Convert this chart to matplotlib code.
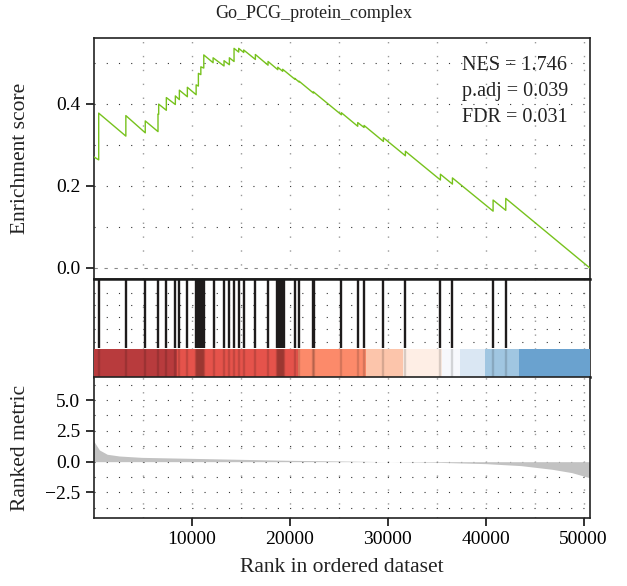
import matplotlib
matplotlib.use("Agg")
import matplotlib.pyplot as plt
import numpy as np

plt.rcParams['font.family'] = ['Liberation Serif', 'DejaVu Serif']

# ---------------- data ----------------
title = "Go_PCG_protein_complex"
n_genes = 50600
stats_text = ["NES = 1.746", "p.adj = 0.039", "FDR = 0.031"]

# running enrichment score vertices (rank, ES)
es_rank = [1, 530, 530, 3300, 3300, 5280, 5280, 6580, 6580, 6650, 6650,
           7430, 7430, 8350, 8350, 8760, 8760, 9575, 9575,
           10470, 10470, 10700, 10700, 10950, 10950, 11250, 11250,
           12200, 12200, 13316, 13316, 13861, 13861, 14337, 14337,
           14813, 14813, 15323, 15323, 16514, 16514, 17806, 17806,
           18800, 18800, 19300, 19300, 20527, 20527, 20969, 20969,
           22432, 22432, 25289, 25289, 26956, 26956, 27602, 27602,
           29575, 29575, 31820, 31820, 35391, 35391, 36616, 36616,
           40765, 40765, 42058, 42058, 50600]
es_value = [0.271, 0.263, 0.377, 0.321, 0.371, 0.329, 0.358, 0.332, 0.375, 0.374, 0.399,
            0.384, 0.415, 0.398, 0.419, 0.410, 0.433, 0.417, 0.440,
            0.422, 0.446, 0.443, 0.474, 0.471, 0.490, 0.487, 0.519,
            0.500, 0.512, 0.492, 0.505, 0.495, 0.512, 0.503, 0.535,
            0.526, 0.535, 0.525, 0.531, 0.508, 0.520, 0.494, 0.503,
            0.483, 0.489, 0.479, 0.484, 0.460, 0.462, 0.453, 0.455,
            0.426, 0.429, 0.373, 0.378, 0.345, 0.354, 0.342, 0.347,
            0.308, 0.317, 0.273, 0.284, 0.214, 0.228, 0.204, 0.219,
            0.138, 0.165, 0.140, 0.169, 0.0]

# ranks of the gene-set members (rug)
hit_ranks = [596, 3316, 5289, 6582, 7432, 8350, 8759, 9575,
             10480, 10580, 10680, 10780, 10880, 10980, 11080, 11180, 11300,
             12330, 13316, 13861, 14337, 14813, 15323, 16514, 17806,
             18720, 18820, 18920, 19020, 19120, 19220, 19320, 19420,
             20527, 20969, 22380, 22480, 25289, 26956, 27602, 29575,
             31820, 35391, 36616, 40765, 42058]

# colour band segments (start rank, end rank, colour)
band_start = [0, 8490, 20900, 27800, 31610, 35530, 37400, 39950, 43420]
band_end = [8490, 20900, 27800, 31610, 35530, 37400, 39950, 43420, 50600]
band_color = ["#B83B3D", "#E5534B", "#FC8A6A", "#FCC5AB", "#FEEEE5",
              "#F7F8FC", "#DAE7F3", "#A0C6E1", "#6AA2CF"]

# ranked metric profile (rank, value)
metric_rank = [1, 600, 1400, 2640, 4900, 10000, 15000, 20000, 25000, 30000,
               35000, 40000, 43600, 46800, 48800, 50600]
metric_value = [1.70, 0.95, 0.60, 0.46, 0.35, 0.27, 0.19, 0.11, 0.06, 0.0,
                -0.05, -0.16, -0.32, -0.62, -0.89, -1.30]

# ---------------- figure ----------------
W, H = 627, 586
fig = plt.figure(figsize=(W / 100, H / 100), dpi=100)

def fx(px):
    return px / W

def fy(py):
    return 1 - py / H

left, right = 93.5, 589.5
ax1 = fig.add_axes([fx(left), fy(278.5), fx(right - left), fy(37.5) - fy(278.5)])
ax2 = fig.add_axes([fx(left), fy(377), fx(right - left), fy(278.5) - fy(377)])
ax3 = fig.add_axes([fx(left), fy(518), fx(right - left), fy(377) - fy(518)])

dot_h = dict(color="#333333", linewidth=0.8, linestyle=(0, (1, 10)))
dot_v = dict(color="#999999", linewidth=1.0, linestyle=(0, (1, 9)))
spine_col = "#222222"

for ax in (ax1, ax2, ax3):
    ax.set_xlim(0, n_genes)
    for s in ax.spines.values():
        s.set_color(spine_col)
        s.set_linewidth(1.2)
    ax.tick_params(axis='both', which='major', length=5.5, width=1.3,
                   color="#222222", labelsize=14, pad=4)
    ax.tick_params(which='minor', length=0)
    ax.set_axisbelow(True)
    for xv in range(5000, 50001, 5000):
        ax.axvline(xv, zorder=0, **dot_v)

# ---- top: running ES ----
ax1.set_ylim(-0.0263, 0.5615)
ax1.set_yticks([0.0, 0.2, 0.4])
ax1.set_yticklabels(["0.0", "0.2", "0.4"])
ax1.set_xticks([])
for yv in [0.1, 0.2, 0.3, 0.4, 0.5]:
    ax1.axhline(yv, zorder=0, **dot_h)
ax1.axhline(0.0, zorder=0, color="#888888", linewidth=0.8, linestyle=(0, (3, 6)))
ax1.plot(es_rank, es_value, color="#77C21D", linewidth=1.0, zorder=3)
base_y = [70, 95.8, 121.7]
for t, by in zip(stats_text, base_y):
    fig.text(fx(461.5), fy(by), t, fontsize=14.5, ha='left', va='baseline',
             color="#222222")

# ---- middle: hits + colour band ----
ax2.set_ylim(0, 1)
ax2.set_xticks([])
ax2.set_yticks([])
for yv in [0.355, 0.487, 0.609, 0.731, 0.853]:
    ax2.axhline(yv, zorder=0, **dot_h)
ax2.vlines(hit_ranks, 0.29, 1.0, color="#1E1B1B", linewidth=1.7, zorder=2)
for s0, s1, c in zip(band_start, band_end, band_color):
    ax2.axvspan(s0, s1, ymin=0.0, ymax=0.284, color=c, linewidth=0, zorder=3)
ax2.vlines(hit_ranks, 0.0, 0.284, color="#000000", alpha=0.15,
           linewidth=1.7, zorder=4)
ax2.spines['top'].set_linewidth(1.8)
ax2.spines['bottom'].set_linewidth(1.8)
ax2.spines['top'].set_color("#1a1a1a")
ax2.spines['bottom'].set_color("#1a1a1a")

# ---- bottom: ranked metric ----
ax3.set_ylim(-4.57, 6.87)
ax3.set_yticks([-2.5, 0.0, 2.5, 5.0])
ax3.set_yticklabels(["\u22122.5", "0.0", "2.5", "5.0"])
ax3.set_xticks([10000, 20000, 30000, 40000, 50000])
ax3.set_xticklabels(["10000", "20000", "30000", "40000", "50000"])
for yv in [-3.75, -2.5, -1.25, 0.0, 1.25, 2.5, 3.75, 5.0, 6.25]:
    ax3.axhline(yv, zorder=0, **dot_h)
ax3.fill_between(metric_rank, 0, metric_value, color="#C2C2C2",
                 linewidth=0, zorder=2)

# ---- labels ----
fig.text(fx(313.5), fy(14), title, fontsize=13, ha='center', va='center',
         color="#222222")
fig.text(fx(21), fy((37.5 + 278.5) / 2), "Enrichment score", fontsize=15.5,
         rotation=90, ha='center', va='center', color="#222222")
fig.text(fx(21), fy(447.5), "Ranked metric", fontsize=15.5,
         rotation=90, ha='center', va='center', color="#222222")
fig.text(fx(341.5), fy(568), "Rank in ordered dataset", fontsize=15.5,
         ha='center', va='center', color="#222222")

fig.savefig("out.png", dpi=100)
